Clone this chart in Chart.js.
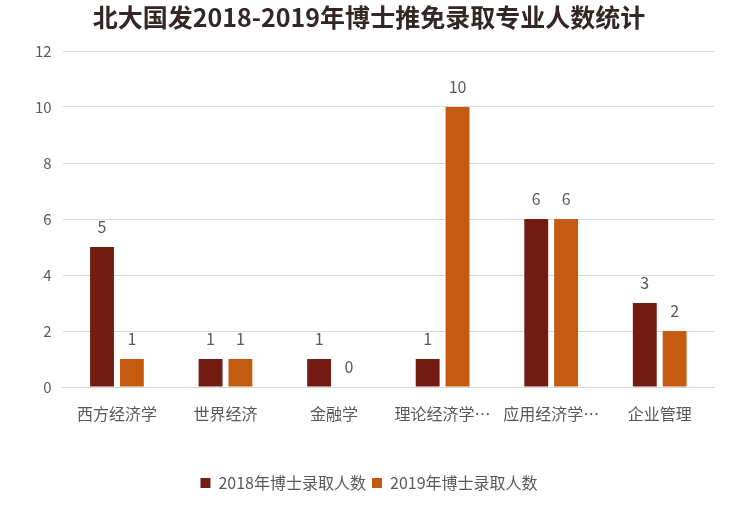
<!DOCTYPE html>
<html>
<head>
<meta charset="utf-8">
<script src="https://cdn.jsdelivr.net/npm/chart.js@4"></script>
<style>
  html, body { margin: 0; padding: 0; background: #fff; }
  #wrap { width: 754px; height: 506px; position: relative; }
</style>
</head>
<body>
<div id="wrap"><canvas id="chart"></canvas></div>
<script>
// Data
const categories = ["西方经济学", "世界经济", "金融学", "理论经济学…", "应用经济学…", "企业管理"];
const admitted2018 = [5, 1, 1, 1, 6, 3];
const admitted2019 = [1, 1, 0, 10, 6, 2];
const seriesNames = ["2018年博士录取人数", "2019年博士录取人数"];

const cjkFont = "'Noto Sans CJK SC', 'Noto Sans', sans-serif";

// value labels above bars
const valueLabels = {
    id: "valueLabels",
    afterDatasetsDraw(chart) {
        const ctx = chart.ctx;
        ctx.save();
        ctx.font = "16px " + cjkFont;
        ctx.fillStyle = "#595959";
        ctx.textAlign = "center";
        ctx.textBaseline = "middle";
        chart.data.datasets.forEach((ds, i) => {
            chart.getDatasetMeta(i).data.forEach((bar, j) => {
                ctx.fillText(ds.data[j], bar.x, bar.y - 20);
            });
        });
        ctx.restore();
    },
};

const ctx = document.getElementById("chart").getContext("2d");
new Chart(ctx, {
    type: "bar",
    data: {
        labels: categories,
        datasets: [
            {
                label: seriesNames[0],
                data: admitted2018,
                backgroundColor: "#731c13",
                barPercentage: 0.8,
                categoryPercentage: 0.55,
            },
            {
                label: seriesNames[1],
                data: admitted2019,
                backgroundColor: "#c55a11",
                barPercentage: 0.8,
                categoryPercentage: 0.55,
            },
        ],
    },
    options: {
        responsive: true,
        maintainAspectRatio: false,
        animation: false,
        layout: {
            padding: { left: 24, right: 40, top: 2, bottom: 5 },
        },
        plugins: {
            title: {
                display: true,
                text: "北大国发2018-2019年博士推免录取专业人数统计",
                color: "#332626",
                font: { family: cjkFont, size: 25, weight: "bold" },
                padding: { top: 0, bottom: 19 },
            },
            legend: {
                position: "bottom",
                labels: {
                    color: "#595959",
                    font: { family: cjkFont, size: 16 },
                    boxWidth: 10,
                    boxHeight: 10,
                    padding: 6,
                },
            },
            tooltip: { enabled: false },
        },
        scales: {
            x: {
                grid: { display: false },
                border: { color: "#d9d9d9" },
                ticks: {
                    color: "#595959",
                    font: { family: cjkFont, size: 16 },
                    padding: 9,
                },
                afterFit(axis) {
                    axis.height = 82;
                },
            },
            y: {
                min: 0,
                max: 12,
                grid: { color: "#d9d9d9", drawTicks: false },
                border: { display: false },
                ticks: {
                    stepSize: 2,
                    color: "#595959",
                    font: { family: cjkFont, size: 15 },
                    padding: 11,
                },
            },
        },
    },
    plugins: [valueLabels],
});
</script>
</body>
</html>
